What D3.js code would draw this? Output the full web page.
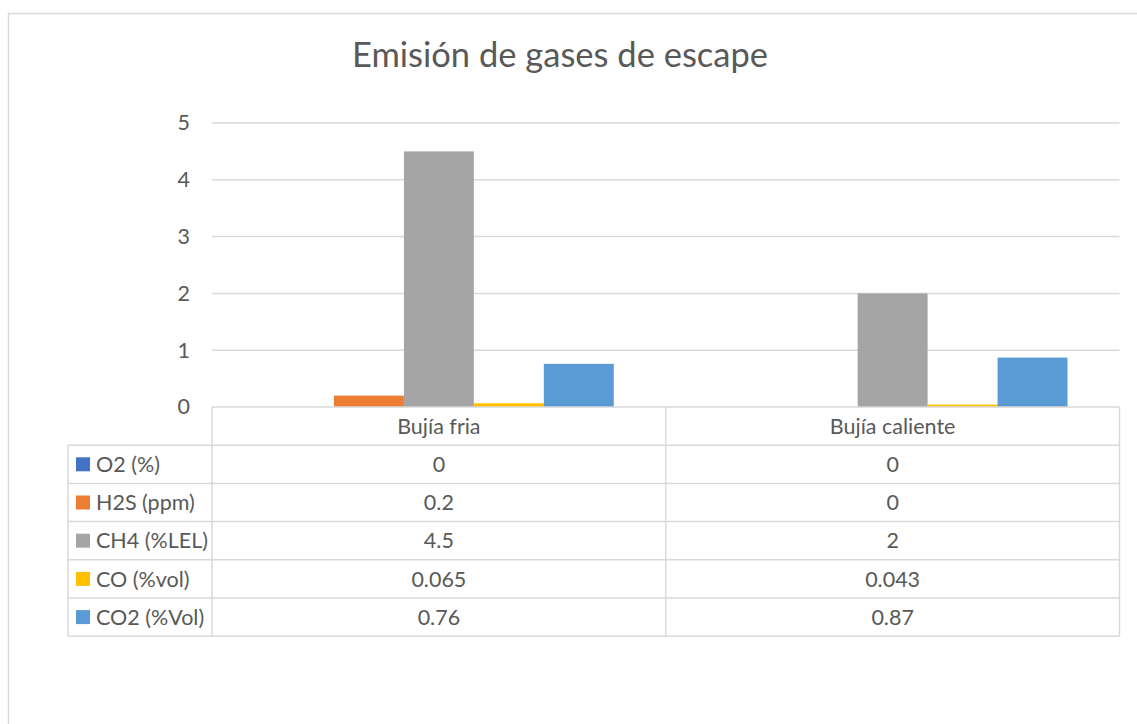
<!DOCTYPE html>
<html>
<head>
<meta charset="utf-8">
<script src="https://cdn.jsdelivr.net/npm/d3@7"></script>
<style>
  html, body { margin: 0; padding: 0; background: #ffffff; }
  svg { display: block; }
  text { font-family: Lato, "Open Sans", sans-serif; fill: #595959; }
</style>
</head>
<body>
<svg id="chart" width="1137" height="724"></svg>
<script>
// Chart data
const title = "Emisión de gases de escape";
const categories = ["Bujía fria", "Bujía caliente"];
const seriesNames = ["O2 (%)", "H2S (ppm)", "CH4 (%LEL)", "CO (%vol)", "CO2 (%Vol)"];
const seriesColors = ["#4472C4", "#ED7D31", "#A5A5A5", "#FFC000", "#5B9BD5"];
const o2Values  = [0, 0];
const h2sValues = [0.2, 0];
const ch4Values = [4.5, 2];
const coValues  = [0.065, 0.043];
const co2Values = [0.76, 0.87];
const yTicks = [0, 1, 2, 3, 4, 5];

const seriesValues = [o2Values, h2sValues, ch4Values, coValues, co2Values];

const svg = d3.select("#chart");
const W = 1137, H = 724;
const gridColor = "#d9d9d9";
const fontSize = "21.5px";

// Outer chart border (runs past the visible frame on the right and bottom)
svg.append("rect")
  .attr("x", 8.5).attr("y", 13.5)
  .attr("width", W + 20).attr("height", H + 20)
  .attr("fill", "none").attr("stroke", gridColor).attr("stroke-width", 1.5);

// Title
svg.append("text")
  .attr("x", 560).attr("y", 67)
  .attr("text-anchor", "middle")
  .style("font-size", "34.5px")
  .text(title);

// Plot geometry
const plotLeft = 212, plotRight = 1119.5, plotTop = 123, plotBottom = 407;

const x = d3.scaleBand().domain(categories).range([plotLeft, plotRight]).paddingInner(0).paddingOuter(0);
const xs = d3.scaleBand().domain(seriesNames).range([0, x.bandwidth()]).paddingInner(0).paddingOuter(0.743);
const y = d3.scaleLinear().domain([0, 5]).range([plotBottom, plotTop]);

// Gridlines
svg.append("g")
  .selectAll("line")
  .data(yTicks.filter(t => t > 0))
  .join("line")
  .attr("x1", plotLeft).attr("x2", plotRight)
  .attr("y1", d => y(d)).attr("y2", d => y(d))
  .attr("stroke", gridColor).attr("stroke-width", 1.5);

// Y axis labels
const yAxis = d3.axisLeft(y).tickValues(yTicks).tickSize(0).tickPadding(0).tickFormat(d3.format("d"));
const yg = svg.append("g").attr("transform", "translate(190,0)").call(yAxis);
yg.select(".domain").remove();
yg.selectAll("text")
  .style("font-size", fontSize)
  .style("font-family", "Lato, 'Open Sans', sans-serif")
  .attr("fill", "#595959");

// Bars
const barGroups = svg.append("g")
  .selectAll("g")
  .data(categories)
  .join("g")
  .attr("transform", d => `translate(${x(d)},0)`);

barGroups.selectAll("rect")
  .data((cat, ci) => seriesNames.map((s, si) => ({ s, si, v: seriesValues[si][ci] })))
  .join("rect")
  .attr("x", d => xs(d.s))
  .attr("width", xs.bandwidth())
  .attr("y", d => y(d.v))
  .attr("height", d => Math.max(0, y(0) - y(d.v)))
  .attr("fill", d => seriesColors[d.si]);

// Data table below the plot
const rowH = 38.2;
const tableTop = plotBottom;
const legendLeft = 68;
const table = svg.append("g");

// Header row text
table.selectAll("text.cat")
  .data(categories)
  .join("text")
  .attr("class", "cat")
  .attr("x", d => x(d) + x.bandwidth() / 2)
  .attr("y", tableTop + rowH / 2)
  .attr("dy", "0.36em")
  .attr("text-anchor", "middle")
  .style("font-size", fontSize)
  .text(d => d);

// Horizontal table lines
const hLines = d3.range(0, seriesNames.length + 2);
table.selectAll("line.h")
  .data(hLines)
  .join("line")
  .attr("class", "h")
  .attr("x1", d => d === 0 ? plotLeft : legendLeft)
  .attr("x2", plotRight)
  .attr("y1", d => tableTop + d * rowH)
  .attr("y2", d => tableTop + d * rowH)
  .attr("stroke", gridColor).attr("stroke-width", 1.5);

// Vertical table lines
const vLines = [
  { x: legendLeft, y1: tableTop + rowH },
  { x: plotLeft, y1: tableTop },
  { x: plotLeft + x.bandwidth(), y1: tableTop },
  { x: plotRight, y1: tableTop }
];
table.selectAll("line.v")
  .data(vLines)
  .join("line")
  .attr("class", "v")
  .attr("x1", d => d.x).attr("x2", d => d.x)
  .attr("y1", d => d.y1)
  .attr("y2", tableTop + (seriesNames.length + 1) * rowH)
  .attr("stroke", gridColor).attr("stroke-width", 1.5);

// Legend keys and row labels
const rows = table.selectAll("g.row")
  .data(seriesNames)
  .join("g")
  .attr("class", "row")
  .attr("transform", (d, i) => `translate(0,${tableTop + (i + 1) * rowH})`);

rows.append("rect")
  .attr("x", 76).attr("y", rowH / 2 - 7)
  .attr("width", 14).attr("height", 14)
  .attr("fill", (d, i) => seriesColors[i]);

rows.append("text")
  .attr("x", 96)
  .attr("y", rowH / 2)
  .attr("dy", "0.36em")
  .style("font-size", fontSize)
  .text(d => d);

// Cell values
rows.selectAll("text.val")
  .data((s, si) => categories.map((c, ci) => ({ c, v: seriesValues[si][ci] })))
  .join("text")
  .attr("class", "val")
  .attr("x", d => x(d.c) + x.bandwidth() / 2)
  .attr("y", rowH / 2)
  .attr("dy", "0.36em")
  .attr("text-anchor", "middle")
  .style("font-size", fontSize)
  .text(d => String(d.v));
</script>
</body>
</html>
